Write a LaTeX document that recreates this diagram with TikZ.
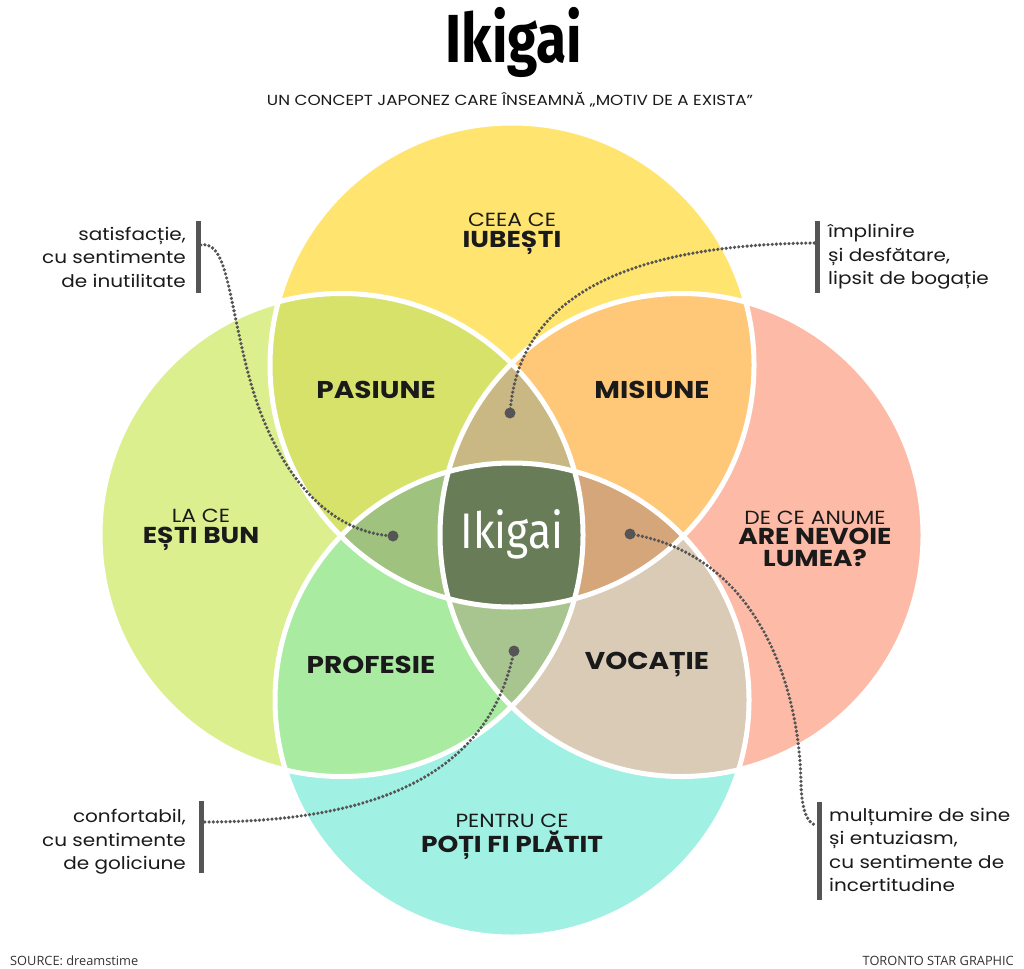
\documentclass[tikz,border=0pt]{standalone}
\usepackage{fontspec}
\usetikzlibrary{calc}
\setmainfont{Poppins}[FakeStretch=1.15]
\newfontfamily\fira{Fira Sans}
\newfontfamily\osans{Open Sans}
\definecolor{topc}{HTML}{FFE46F}
\definecolor{leftc}{HTML}{DCEF8E}
\definecolor{rightc}{HTML}{FDBBA7}
\definecolor{botc}{HTML}{A0F0E3}
\definecolor{pasc}{HTML}{D7E26B}
\definecolor{misc}{HTML}{FFC878}
\definecolor{profc}{HTML}{A8EBA1}
\definecolor{vocc}{HTML}{D9CBB5}
\definecolor{upc}{HTML}{C9B884}
\definecolor{lowc}{HTML}{A9C58F}
\definecolor{leftlc}{HTML}{9FC27F}
\definecolor{rightlc}{HTML}{D6A67B}
\definecolor{cenc}{HTML}{687C58}
\definecolor{ink}{HTML}{1A1A1A}
\definecolor{lead}{HTML}{555555}
\newcommand\lblsmall{\fontsize{19}{20}\selectfont}
\newcommand\lblbig{\bfseries\fontsize{23}{20}\selectfont}
\tikzset{
  outline/.style={draw=white,line width=5pt},
  region/.style={align=center,text=ink,inner sep=0pt,font=\fontsize{19}{20.5}\selectfont},
  midlbl/.style={font=\fontsize{24.3}{26}\selectfont\bfseries,text=ink,inner sep=0pt},
  note/.style={font=\fontsize{17.4}{23.5}\selectfont,text=ink,inner sep=0pt},
  bar/.style={fill=lead,minimum width=5pt,inner sep=0pt,draw=none},
  leader/.style={draw=lead,line width=3.6pt,line cap=round,dash pattern=on 0pt off 4.2pt},
  enddot/.style={circle,fill=lead,minimum size=11pt,inner sep=0pt},
  foot/.style={font=\osans\fontsize{12.8}{14}\selectfont,text=black!80,inner sep=0pt}
}
\begin{document}
\begin{tikzpicture}[x=1pt,y=-1pt]
\useasboundingbox (0,0) rectangle (1024,968);
\fill[white] (0,0) rectangle (1024,968);
\def\rT{242pt}\def\rB{237pt}\def\rL{241.5pt}\def\rR{241.5pt}
\coordinate (cT) at (512,365);
\coordinate (cB) at (512,700);
\coordinate (cL) at (341.5,535);
\coordinate (cR) at (681.5,535);
% base circles
\fill[topc] (cT) circle[radius=\rT];
\fill[leftc] (cL) circle[radius=\rL];
\fill[rightc] (cR) circle[radius=\rR];
\fill[botc] (cB) circle[radius=\rB];
% pair overlaps
\begin{scope}
  \clip (cT) circle[radius=\rT];
  \fill[pasc] (cL) circle[radius=\rL];
  \fill[misc] (cR) circle[radius=\rR];
\end{scope}
\begin{scope}
  \clip (cB) circle[radius=\rB];
  \fill[profc] (cL) circle[radius=\rL];
  \fill[vocc] (cR) circle[radius=\rR];
\end{scope}
% triple overlaps
\begin{scope}
  \clip (cL) circle[radius=\rL];
  \clip (cR) circle[radius=\rR];
  \fill[upc] (cT) circle[radius=\rT];
  \fill[lowc] (cB) circle[radius=\rB];
\end{scope}
\begin{scope}
  \clip (cT) circle[radius=\rT];
  \clip (cB) circle[radius=\rB];
  \fill[leftlc] (cL) circle[radius=\rL];
  \fill[rightlc] (cR) circle[radius=\rR];
\end{scope}
% all four
\begin{scope}
  \clip (cT) circle[radius=\rT];
  \clip (cB) circle[radius=\rB];
  \clip (cL) circle[radius=\rL];
  \fill[cenc] (cR) circle[radius=\rR];
\end{scope}
% white outlines
\draw[outline] (cT) circle[radius=\rT];
\draw[outline] (cL) circle[radius=\rL];
\draw[outline] (cR) circle[radius=\rR];
\draw[outline] (cB) circle[radius=\rB];

% title
\node[inner sep=0pt,text=black] (title) at (514,42) {\scalebox{0.81}[1]{\fira\bfseries\fontsize{68}{70}\selectfont Ikigai}};
\node[inner sep=0pt,text=ink,font=\fontsize{14.6}{17}\selectfont] (subtitle) at (510,100) {UN CONCEPT JAPONEZ CARE ÎNSEAMNĂ „MOTIV DE A EXISTA”};

% region labels
\node[region] (lblT) at (512,234) {\lblsmall CEEA CE\\\lblbig IUBEȘTI};
\node[region] (lblL) at (201,530) {\lblsmall LA CE\\\lblbig EȘTI BUN};
\node[region] (lblR) at (815,539) {\lblsmall DE CE ANUME\\\lblbig ARE NEVOIE\\[1.4pt]\lblbig LUMEA?};
\node[region,font=\fontsize{19}{25}\selectfont] (lblB) at (512,837) {\lblsmall PENTRU CE\\\lblbig POȚI FI PLĂTIT};
\node[midlbl] (pas) at (376,390) {PASIUNE};
\node[midlbl] (mis) at (652,390) {MISIUNE};
\node[midlbl] (prof) at (371,665) {PROFESIE};
\node[midlbl] (voc) at (647,665) {VOCAȚIE};
\node[inner sep=0pt,text=white] (center) at (512,534) {\scalebox{0.85}[1]{\fira\fontsize{50}{52}\selectfont Ikigai}};

% annotation texts
\node[note,anchor=east,align=right] (nLT) at (186,257) {satisfacție,\\cu sentimente\\de inutilitate};
\node[note,anchor=west,align=left] (nRT) at (828,257) {împlinire\\și desfătare,\\lipsit de bogație};
\node[note,anchor=east,align=right] (nLB) at (186,842) {confortabil,\\cu sentimente\\de goliciune};
\node[note,anchor=west,align=left] (nRB) at (829,850) {mulțumire de sine\\și entuziasm,\\cu sentimente de\\incertitudine};

% bars
\node[bar,minimum height=72pt] (barLT) at (198,257) {};
\node[bar,minimum height=72pt] (barRT) at (817,257) {};
\node[bar,minimum height=72pt] (barLB) at (201,837) {};
\node[bar,minimum height=98pt] (barRB) at (819,851) {};

% end dots
\node[enddot] (dL) at (393,536) {};
\node[enddot] (dU) at (510,413) {};
\node[enddot] (dD) at (514,651) {};
\node[enddot] (dR) at (630,534) {};

% leader attach points
\coordinate (sLT) at ($(barLT.east)+(0,-12)$);
\coordinate (sRT) at ($(barRT.west)+(0,-14)$);
\coordinate (sLB) at ($(barLB.east)+(0,-15)$);
\coordinate (sRB) at ($(barRB.west)+(0,-26)$);

\draw[leader] (sLT) .. controls (228,240) and (228,300) .. (250,380) .. controls (272,460) and (320,532) .. (dL.center);
\draw[leader] (dU.center) .. controls (518,300) and (620,245) .. (sRT);
\draw[leader] (dD.center) .. controls (492,760) and (400,822) .. (sLB);
\draw[leader] (dR.center) .. controls (760,555) and (800,690) .. (801,785) .. controls (802,812) and (808,824) .. (sRB);

% footer
\node[foot,anchor=west] (src) at (10,961) {SOURCE: dreamstime};
\node[foot,anchor=east] (tsg) at (1014,961) {TORONTO STAR GRAPHIC};
\end{tikzpicture}
\end{document}
